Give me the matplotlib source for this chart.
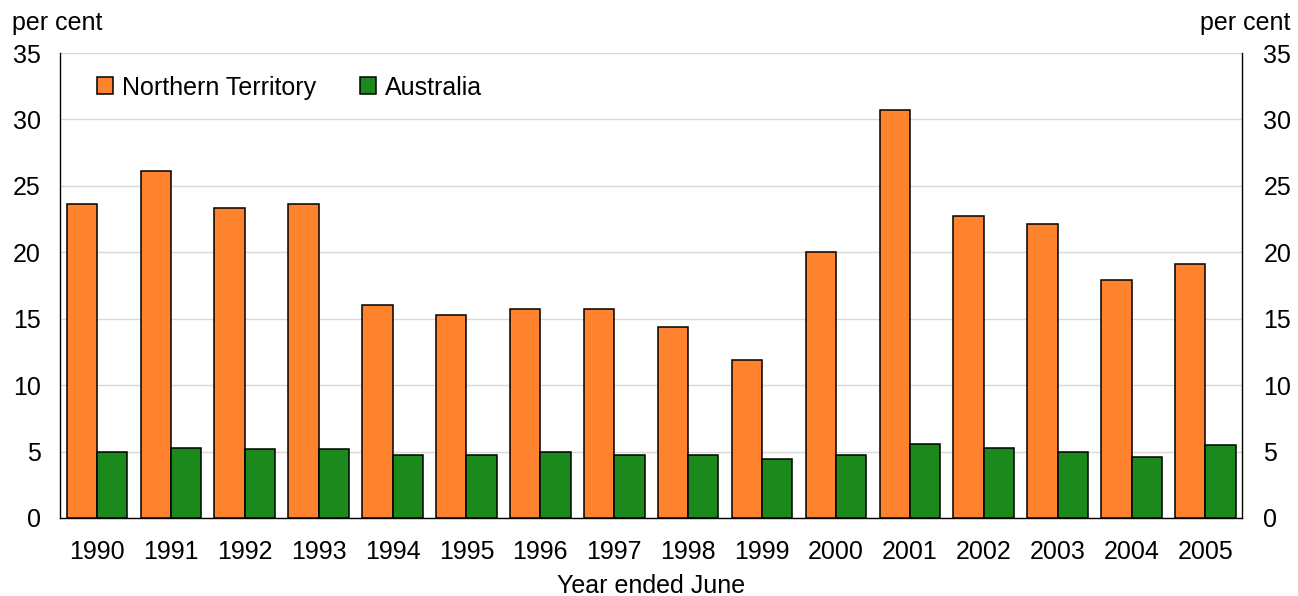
import numpy as np
import matplotlib
matplotlib.use("Agg")
import matplotlib.pyplot as plt

plt.rcParams["font.family"] = ["Liberation Sans", "DejaVu Sans"]

years = ["1990", "1991", "1992", "1993", "1994", "1995", "1996", "1997",
         "1998", "1999", "2000", "2001", "2002", "2003", "2004", "2005"]
northern_territory = [23.6, 26.1, 23.3, 23.6, 16.0, 15.3, 15.7, 15.7,
                      14.4, 11.9, 20.0, 30.7, 22.7, 22.1, 17.9, 19.1]
australia = [5.0, 5.3, 5.2, 5.2, 4.7, 4.7, 5.0, 4.7,
             4.7, 4.4, 4.7, 5.6, 5.3, 5.0, 4.6, 5.5]
yticks = [0, 5, 10, 15, 20, 25, 30, 35]

ORANGE = "#FF822E"
GREEN = "#1C891C"
FS = 18

fig = plt.figure(figsize=(12.98, 5.96), dpi=100)
ax = fig.add_axes([0.0462, 0.131, 0.911, 0.780])

x = np.arange(len(years))
w = 0.41
ax.bar(x - w / 2, northern_territory, w, color=ORANGE, edgecolor="black",
       linewidth=1.1, label="Northern Territory", zorder=3)
ax.bar(x + w / 2, australia, w, color=GREEN, edgecolor="black",
       linewidth=1.1, label="Australia", zorder=3)

ax.set_xlim(-0.5, len(years) - 0.5)
ax.set_ylim(0, 35)
ax.set_yticks(yticks)
ax.set_xticks(x)
ax.set_xticklabels(years)
ax.grid(axis="y", color="#d9d9d9", linewidth=1, zorder=0)
ax.tick_params(axis="both", length=0, labelsize=FS)
ax.tick_params(axis="x", pad=16)
ax.tick_params(axis="y", pad=14)
ax.spines["top"].set_visible(False)
for s in ("left", "right", "bottom"):
    ax.spines[s].set_linewidth(1)

# mirrored scale on the right-hand side
ax2 = ax.twinx()
ax2.set_ylim(ax.get_ylim())
ax2.set_yticks(yticks)
ax2.tick_params(axis="y", length=0, labelsize=FS, pad=15)
for s in ("top", "left", "bottom", "right"):
    ax2.spines[s].set_visible(False)

ax.set_xlabel("Year ended June", fontsize=FS, labelpad=7)
fig.text(0.009, 0.962, "per cent", fontsize=FS, ha="left", va="center")
fig.text(0.994, 0.962, "per cent", fontsize=FS, ha="right", va="center")

ax.legend(loc="upper left", bbox_to_anchor=(0.012, 1.0), ncol=2,
          frameon=False, fontsize=FS, handlelength=0.65, handleheight=0.65,
          handletextpad=0.35, columnspacing=1.75)

fig.savefig("out.png", dpi=100)
